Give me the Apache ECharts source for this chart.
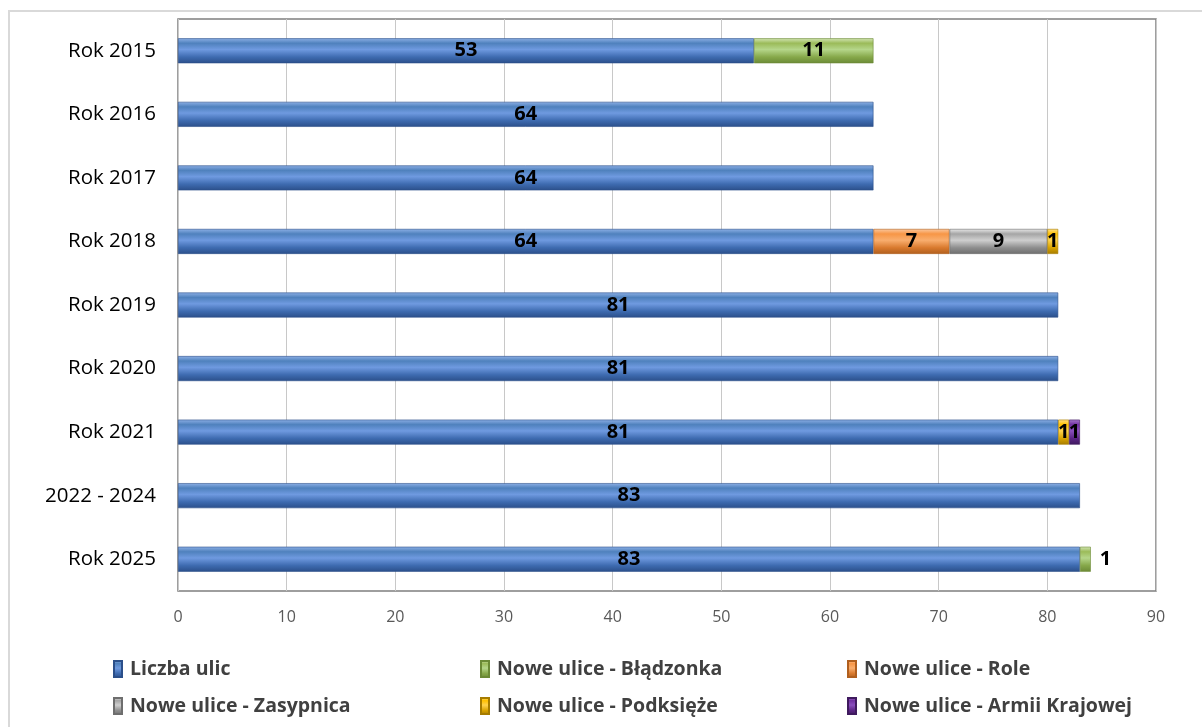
<!DOCTYPE html>
<html><head><meta charset="utf-8">
<script src="https://cdn.jsdelivr.net/npm/echarts@6/dist/echarts.min.js"></script>
<style>html,body{margin:0;padding:0;background:#fff}#c{width:1202px;height:727px}</style>
</head><body><div id="c"></div>
<script>
const categories = ['Rok 2015','Rok 2016','Rok 2017','Rok 2018','Rok 2019','Rok 2020','Rok 2021','2022 - 2024','Rok 2025'];
const seriesNames = ['Liczba ulic','Nowe ulice - Błądzonka','Nowe ulice - Role','Nowe ulice - Zasypnica','Nowe ulice - Podksięże','Nowe ulice - Armii Krajowej'];
const liczbaUlic = [53,64,64,64,81,81,81,83,83];
const bladzonka = [11,null,null,null,null,null,null,null,1];
const role = [null,null,null,7,null,null,null,null,null];
const zasypnica = [null,null,null,9,null,null,null,null,null];
const podksieze = [null,null,null,1,null,null,1,null,null];
const armiiKrajowej = [null,null,null,null,null,null,1,null,null];
const xTicks = [0,10,20,30,40,50,60,70,80,90];

const FONT = 'Open Sans';
const palette = [
  ['#8db0e6','#4f81bd','#6f9ae0','#3e6bb0','#2b4f8a'],
  ['#d3e6b5','#9bbb59','#b5d68a','#86a84a','#6b8a36'],
  ['#fbc8a0','#f79646','#f9ae6e','#d97a2e','#b05f1e'],
  ['#e8e8e8','#a5a5a5','#cfcfcf','#8e8e8e','#6e6e6e'],
  ['#ffe08a','#ffc000','#ffd34d','#d9a300','#a67c00'],
  ['#a87ccf','#7030a0','#8a4fbd','#5b2585','#3f1a5e']
];
function grad(p){
  return {type:'linear',x:0,y:0,x2:0,y2:1,colorStops:[
    {offset:0,color:p[0]},{offset:0.2,color:p[1]},{offset:0.45,color:p[2]},
    {offset:0.75,color:p[3]},{offset:1,color:p[4]}]};
}
const dataArrays = [liczbaUlic,bladzonka,role,zasypnica,podksieze,armiiKrajowej];

const series = seriesNames.map((name,i)=>({
  name, type:'bar', stack:'total', barWidth:25,
  itemStyle:{color:grad(palette[i]), borderColor:palette[i][4], borderWidth:0.6},
  label:{show:true, position:'inside', color:'#000', fontFamily:FONT, fontWeight:'bold', fontSize:20},
  data: dataArrays[i].map((v,j)=>{
    if (i===1 && categories[j]==='Rok 2025') {
      return {value:v, label:{position:'right', distance:9}};
    }
    return v;
  })
}));

const legendPos = [[113,659],[480,659],[847,659],[113,696],[480,696],[847,696]];
const legends = seriesNames.map((n,i)=>({
  data:[{name:n, icon:'rect'}], left:legendPos[i][0], top:legendPos[i][1], padding:0,
  itemWidth:8, itemHeight:16, itemGap:4,
  textStyle:{color:'#404040', fontFamily:FONT, fontWeight:'bold', fontSize:19.5, padding:[0,0,0,3]}
}));

const chart = echarts.init(document.getElementById('c'), null, {renderer:'canvas'});
chart.setOption({
  animation:false,
  backgroundColor:'#fff',
  graphic:[{type:'rect', shape:{x:9,y:11,width:1210,height:730}, style:{fill:'none', stroke:'#d9d9d9', lineWidth:2}, z:-1}],
  grid:{left:178, right:46, top:19, bottom:136, show:true, borderColor:'#7f7f7f', borderWidth:1.5, backgroundColor:'transparent'},
  legend: legends,
  xAxis:{type:'value', min:0, max:90, interval:10,
    axisLine:{show:false}, axisTick:{show:false},
    splitLine:{lineStyle:{color:'#c8c8c8', width:1}},
    axisLabel:{color:'#595959', fontFamily:FONT, fontSize:16, margin:18,
      formatter:v=>xTicks.includes(v)?String(v):''}
  },
  yAxis:{type:'category', data:categories, inverse:true,
    axisLine:{show:false}, axisTick:{show:false},
    axisLabel:{color:'#000', fontFamily:FONT, fontSize:20.5, margin:22}
  },
  series
});
</script></body></html>
